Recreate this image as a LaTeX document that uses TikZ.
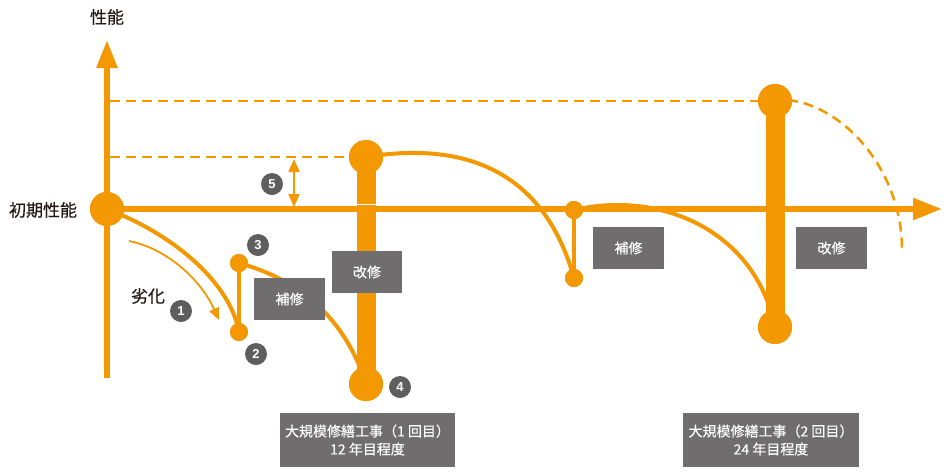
\documentclass[tikz,border=0pt]{standalone}
\usepackage{fontspec}
\setmainfont{Noto Sans CJK JP}[FakeBold=0.3]
\newfontfamily\numfont{Liberation Sans}
\usetikzlibrary{arrows.meta}
\definecolor{org}{HTML}{F39800}
\definecolor{boxg}{HTML}{6F6D6D}
\definecolor{lblg}{HTML}{5E5E5E}
\definecolor{txt}{HTML}{231815}
\begin{document}
\begin{tikzpicture}[x=1pt,y=-1pt,
 bigdot/.style={circle,fill=org,minimum size=34pt,inner sep=0pt},
 smalldot/.style={circle,fill=org,minimum size=18pt,inner sep=0pt},
 numlbl/.style={circle,fill=lblg,minimum size=22pt,inner sep=0pt,text=white,font=\numfont\bfseries\fontsize{13}{13}\selectfont},
 graybox/.style={fill=boxg,text=white,inner sep=0pt,font=\fontsize{14}{18}\selectfont,align=center},
 curve/.style={draw=org,line width=4pt},
 thin/.style={draw=org,line width=1.8pt},
 dashline/.style={draw=org,line width=2.5pt,dash pattern=on 10pt off 6pt},
 axis/.style={draw=org,line width=5.5pt},
 bar/.style={draw=org,line width=19pt},
 lbl/.style={text=txt,font=\fontsize{17}{20}\selectfont}
]
\useasboundingbox (0,0) rectangle (950,475);
% coordinates
\coordinate (ytip) at (107,40);
\coordinate (ybot) at (107,378);
\coordinate (xtip) at (942,209);
\coordinate (d1s) at (110,157);
\coordinate (d2s) at (110,101);
\coordinate (a5t) at (294,159);
\coordinate (a5b) at (294,207);
\coordinate (ds) at (129,241);
\coordinate (de) at (219,320);
\coordinate (dashend) at (902,252);

% dashed reference lines
\draw[dashline] (d2s) -- (775,101);
\draw[dashline] (d1s) -- (366,157);
\draw[dashline] (788,100) .. controls (845,106) and (903,172) .. (dashend);

% axes
\draw[axis,-{Triangle[length=28pt,width=20pt]}] (ybot) -- (ytip);
\draw[axis,-{Triangle[length=29pt,width=21pt]}] (107,209) -- (xtip);

% dots (positions)
\node[bigdot] (p0) at (107,209) {};
\node[smalldot] (p2) at (239,332) {};
\node[smalldot] (p3) at (239,263) {};
\node[bigdot] (b1t) at (366,157) {};
\node[bigdot] (b1b) at (366,384) {};
\node[smalldot] (q2) at (574,278) {};
\node[smalldot] (q3) at (574,210) {};
\node[bigdot] (b2t) at (775,101) {};
\node[bigdot] (b2b) at (775,327) {};

% curves
\draw[curve] (p0.center) .. controls (175,235) and (230,283) .. (p2.center);
\draw[curve] (p2.center) -- (p3.center);
\draw[curve] (p3.center) .. controls (300,280) and (345,318) .. (b1b.center);
\draw[curve] (b1t.center) .. controls (470,140) and (545,175) .. (q2.center);
\draw[curve] (q2.center) -- (q3.center);
\draw[curve] (q3.center) .. controls (660,190) and (755,230) .. (b2b.center);
\draw[thin,-{Triangle[length=12pt,width=10pt]}] (ds) .. controls (165,248) and (200,278) .. (de);

% bars
\draw[bar] (b1t.center) -- (b1b.center);
\draw[bar] (b2t.center) -- (b2b.center);
\fill[white] (356.5,204) rectangle (375.5,205.2);
\draw[axis] (340,209) -- (390,209);

% redraw dots on top
\foreach \n/\s in {p0/bigdot,p2/smalldot,p3/smalldot,b1t/bigdot,b1b/bigdot,q2/smalldot,q3/smalldot,b2t/bigdot,b2b/bigdot}
  \node[\s] at (\n.center) {};

% double arrow 5
\draw[thin,{Triangle[length=13pt,width=11pt]}-{Triangle[length=13pt,width=11pt]}] (a5t) -- (a5b);

% boxes
\node[graybox,minimum width=71pt,minimum height=42pt] (h1) at (289.5,299) {補修};
\node[graybox,minimum width=70pt,minimum height=42pt] (k1) at (367,272) {改修};
\node[graybox,minimum width=71pt,minimum height=42pt] (h2) at (628.5,248) {補修};
\node[graybox,minimum width=71pt,minimum height=42pt] (k2) at (831.5,248) {改修};
\node[graybox,minimum width=175pt,minimum height=54pt] (m1) at (367.5,440) {大規模修繕工事（1 回目）\\12 年目程度};
\node[graybox,minimum width=176pt,minimum height=54pt] (m2) at (771,440) {大規模修繕工事（2 回目）\\24 年目程度};

% number labels
\node[numlbl] (n1) at (181,311) {1};
\node[numlbl] (n2) at (256,354) {2};
\node[numlbl] (n3) at (258,245) {3};
\node[numlbl] (n4) at (400,387) {4};
\node[numlbl] (n5) at (272,184) {5};

% texts
\node[lbl] (tY) at (107,17) {性能};
\node[lbl] (tI) at (43,210) {初期性能};
\node[lbl] (tD) at (148,296) {劣化};
\end{tikzpicture}
\end{document}
